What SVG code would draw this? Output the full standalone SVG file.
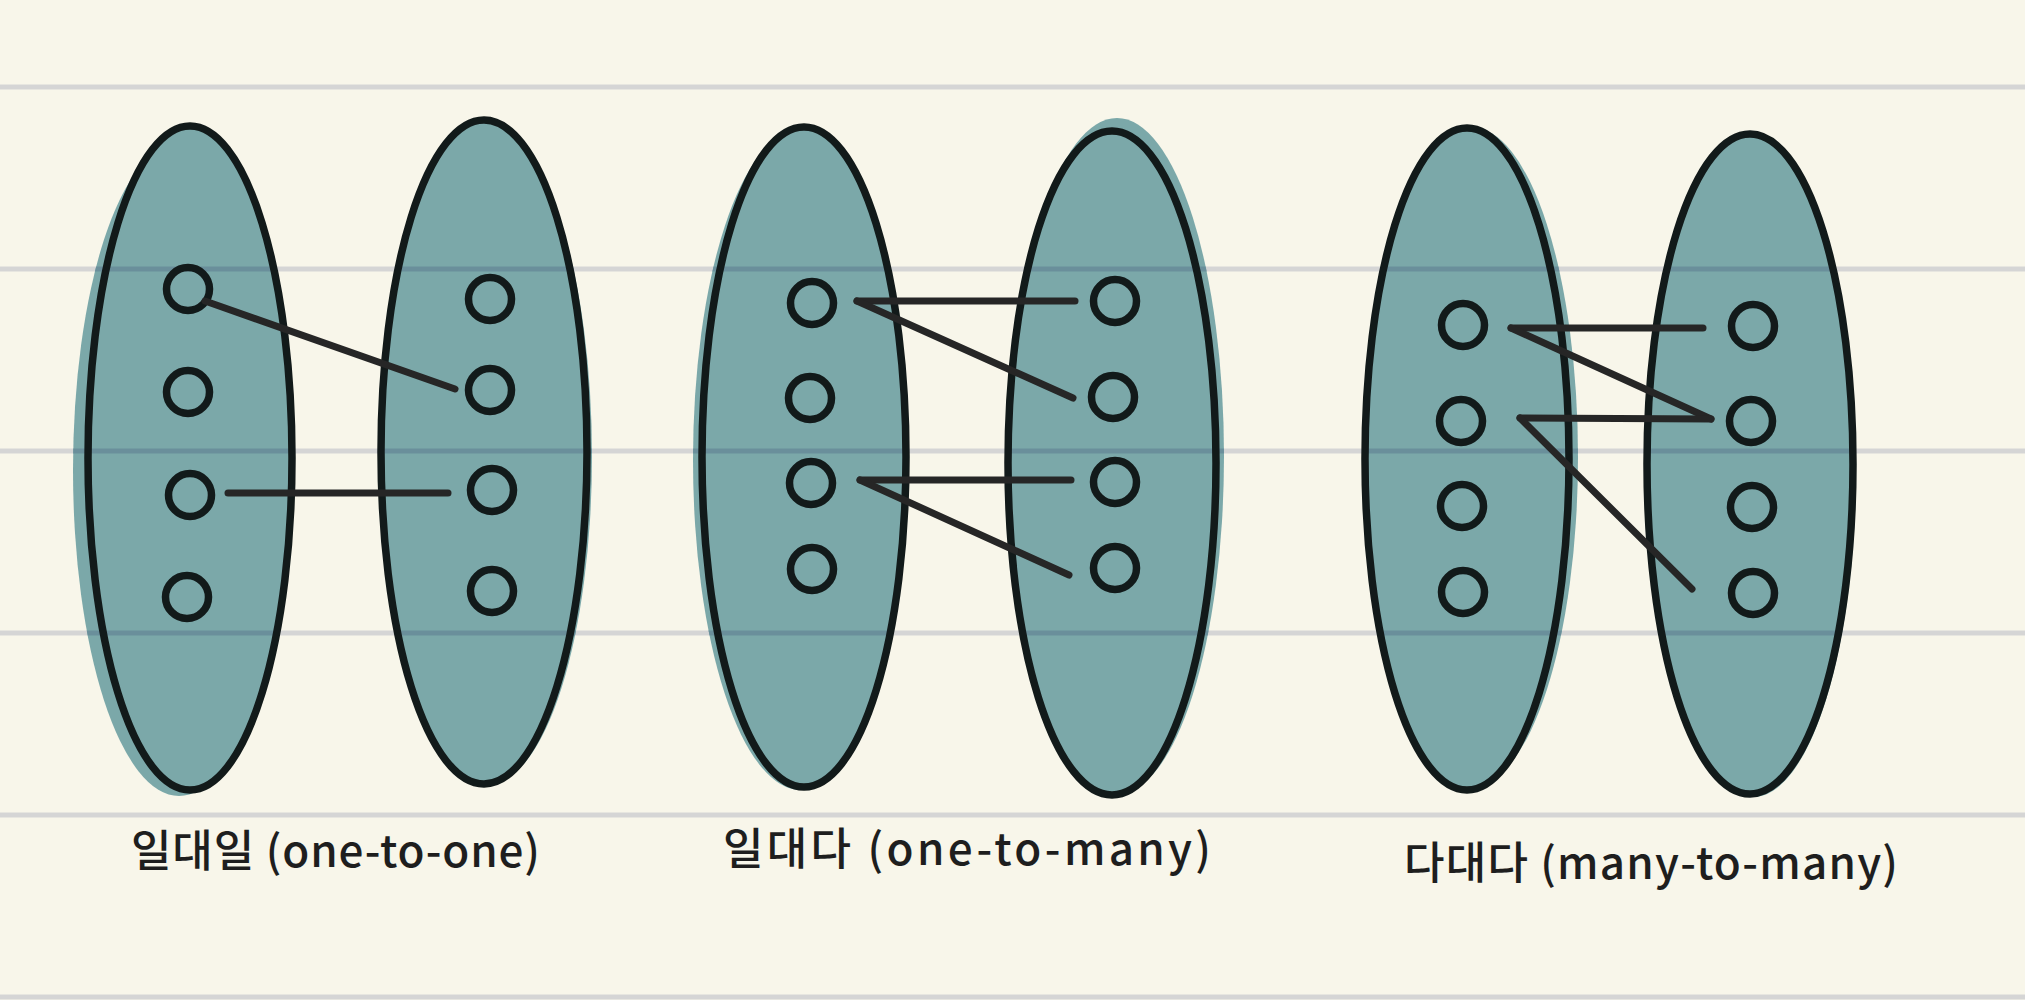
<svg xmlns="http://www.w3.org/2000/svg" xmlns:xlink="http://www.w3.org/1999/xlink" width="2025" height="1000" viewBox="0 0 2025 1000">
<style>
.bg{fill:#f8f6ea}
#grid line{stroke-width:5}
.gridbase{stroke:#d5d5d5}
.gridover{stroke:#6a8f9b}
.teal{fill:#7ba8a9}
.outline{fill:none;stroke:#121a1a;stroke-width:7.5}
.dot{fill:none;stroke:#121a1a;stroke-width:7.5}
#connectors line{stroke:#262626;stroke-width:7}
#connectors line{stroke-linecap:round}
.label{font-family:"Noto Sans CJK KR","Noto Sans",sans-serif;font-size:44px;fill:#1e1e1e;font-weight:500}
</style>
<defs>
<g id="grid">
<line x1="0" y1="87" x2="2025" y2="87"/>
<line x1="0" y1="269" x2="2025" y2="269"/>
<line x1="0" y1="451" x2="2025" y2="451"/>
<line x1="0" y1="633" x2="2025" y2="633"/>
<line x1="0" y1="815" x2="2025" y2="815"/>
<line x1="0" y1="997" x2="2025" y2="997"/>
</g>
<ellipse id="e1a" cx="190" cy="458" rx="102" ry="332"/>
<ellipse id="b1a" cx="179" cy="470" rx="106" ry="326"/>
<ellipse id="e1b" cx="484" cy="452" rx="103" ry="332"/>
<ellipse id="b1b" cx="488" cy="456" rx="104" ry="328"/>
<ellipse id="e2a" cx="804" cy="457" rx="102" ry="330"/>
<ellipse id="b2a" cx="801" cy="460" rx="108" ry="330"/>
<ellipse id="e2b" cx="1112" cy="463" rx="104" ry="332"/>
<ellipse id="b2b" cx="1117" cy="456" rx="107" ry="338"/>
<ellipse id="e3a" cx="1467" cy="459" rx="102" ry="331"/>
<ellipse id="b3a" cx="1471" cy="457" rx="107" ry="330"/>
<ellipse id="e3b" cx="1750" cy="464" rx="103" ry="330"/>
<ellipse id="b3b" cx="1753" cy="467" rx="103" ry="330"/>
<clipPath id="c1a"><use xlink:href="#e1a"/><use xlink:href="#b1a"/></clipPath>
<clipPath id="c1b"><use xlink:href="#e1b"/><use xlink:href="#b1b"/></clipPath>
<clipPath id="c2a"><use xlink:href="#e2a"/><use xlink:href="#b2a"/></clipPath>
<clipPath id="c2b"><use xlink:href="#e2b"/><use xlink:href="#b2b"/></clipPath>
<clipPath id="c3a"><use xlink:href="#e3a"/><use xlink:href="#b3a"/></clipPath>
<clipPath id="c3b"><use xlink:href="#e3b"/><use xlink:href="#b3b"/></clipPath>
</defs>
<rect class="bg" x="0" y="0" width="2025" height="1000"/>
<use xlink:href="#grid" class="gridbase"/>

<g id="set-1-left">
<use xlink:href="#b1a" class="teal"/><use xlink:href="#e1a" class="teal"/>
<use xlink:href="#grid" class="gridover" clip-path="url(#c1a)"/>
<use xlink:href="#e1a" class="outline"/>
</g>
<g id="set-1-right">
<use xlink:href="#b1b" class="teal"/><use xlink:href="#e1b" class="teal"/>
<use xlink:href="#grid" class="gridover" clip-path="url(#c1b)"/>
<use xlink:href="#e1b" class="outline"/>
</g>
<g id="set-2-left">
<use xlink:href="#b2a" class="teal"/><use xlink:href="#e2a" class="teal"/>
<use xlink:href="#grid" class="gridover" clip-path="url(#c2a)"/>
<use xlink:href="#e2a" class="outline"/>
</g>
<g id="set-2-right">
<use xlink:href="#b2b" class="teal"/><use xlink:href="#e2b" class="teal"/>
<use xlink:href="#grid" class="gridover" clip-path="url(#c2b)"/>
<use xlink:href="#e2b" class="outline"/>
</g>
<g id="set-3-left">
<use xlink:href="#b3a" class="teal"/><use xlink:href="#e3a" class="teal"/>
<use xlink:href="#grid" class="gridover" clip-path="url(#c3a)"/>
<use xlink:href="#e3a" class="outline"/>
</g>
<g id="set-3-right">
<use xlink:href="#b3b" class="teal"/><use xlink:href="#e3b" class="teal"/>
<use xlink:href="#grid" class="gridover" clip-path="url(#c3b)"/>
<use xlink:href="#e3b" class="outline"/>
</g>

<g id="elem-1L-1"><circle class="dot" cx="188" cy="289" r="21.5"/></g>
<g id="elem-1L-2"><circle class="dot" cx="188" cy="392" r="21.5"/></g>
<g id="elem-1L-3"><circle class="dot" cx="190" cy="495" r="21.5"/></g>
<g id="elem-1L-4"><circle class="dot" cx="187" cy="597" r="21.5"/></g>
<g id="elem-1R-1"><circle class="dot" cx="490" cy="299" r="21.5"/></g>
<g id="elem-1R-2"><circle class="dot" cx="490" cy="390" r="21.5"/></g>
<g id="elem-1R-3"><circle class="dot" cx="492" cy="490" r="21.5"/></g>
<g id="elem-1R-4"><circle class="dot" cx="492" cy="591" r="21.5"/></g>

<g id="elem-2L-1"><circle class="dot" cx="812" cy="303" r="21.5"/></g>
<g id="elem-2L-2"><circle class="dot" cx="810" cy="398" r="21.5"/></g>
<g id="elem-2L-3"><circle class="dot" cx="811" cy="483" r="21.5"/></g>
<g id="elem-2L-4"><circle class="dot" cx="812" cy="569" r="21.5"/></g>
<g id="elem-2R-1"><circle class="dot" cx="1115" cy="301" r="21.5"/></g>
<g id="elem-2R-2"><circle class="dot" cx="1113" cy="397" r="21.5"/></g>
<g id="elem-2R-3"><circle class="dot" cx="1115" cy="482" r="21.5"/></g>
<g id="elem-2R-4"><circle class="dot" cx="1115" cy="568" r="21.5"/></g>

<g id="elem-3L-1"><circle class="dot" cx="1463" cy="325" r="21.5"/></g>
<g id="elem-3L-2"><circle class="dot" cx="1461" cy="421" r="21.5"/></g>
<g id="elem-3L-3"><circle class="dot" cx="1462" cy="506" r="21.5"/></g>
<g id="elem-3L-4"><circle class="dot" cx="1463" cy="592" r="21.5"/></g>
<g id="elem-3R-1"><circle class="dot" cx="1753" cy="326" r="21.5"/></g>
<g id="elem-3R-2"><circle class="dot" cx="1751" cy="421" r="21.5"/></g>
<g id="elem-3R-3"><circle class="dot" cx="1752" cy="507" r="21.5"/></g>
<g id="elem-3R-4"><circle class="dot" cx="1753" cy="593" r="21.5"/></g>

<g id="connectors">
<line x1="205" y1="301" x2="455" y2="389"/>
<line x1="228" y1="493" x2="448" y2="493"/>
<line x1="857" y1="301" x2="1075" y2="301"/>
<line x1="857" y1="301" x2="1073" y2="398"/>
<line x1="860" y1="480" x2="1071" y2="480"/>
<line x1="860" y1="480" x2="1069" y2="575"/>
<line x1="1511" y1="328" x2="1703" y2="328"/>
<line x1="1511" y1="328" x2="1711" y2="419"/>
<line x1="1520" y1="418" x2="1711" y2="419"/>
<line x1="1520" y1="418" x2="1692" y2="589"/>
</g>

<g id="labels">
<text class="label" x="131" y="867" textLength="409" lengthAdjust="spacing">일대일 (one-to-one)</text>
<text class="label" x="723" y="865" textLength="488" lengthAdjust="spacing">일대다 (one-to-many)</text>
<text class="label" x="1404" y="879" textLength="494" lengthAdjust="spacing">다대다 (many-to-many)</text>
</g>
</svg>
